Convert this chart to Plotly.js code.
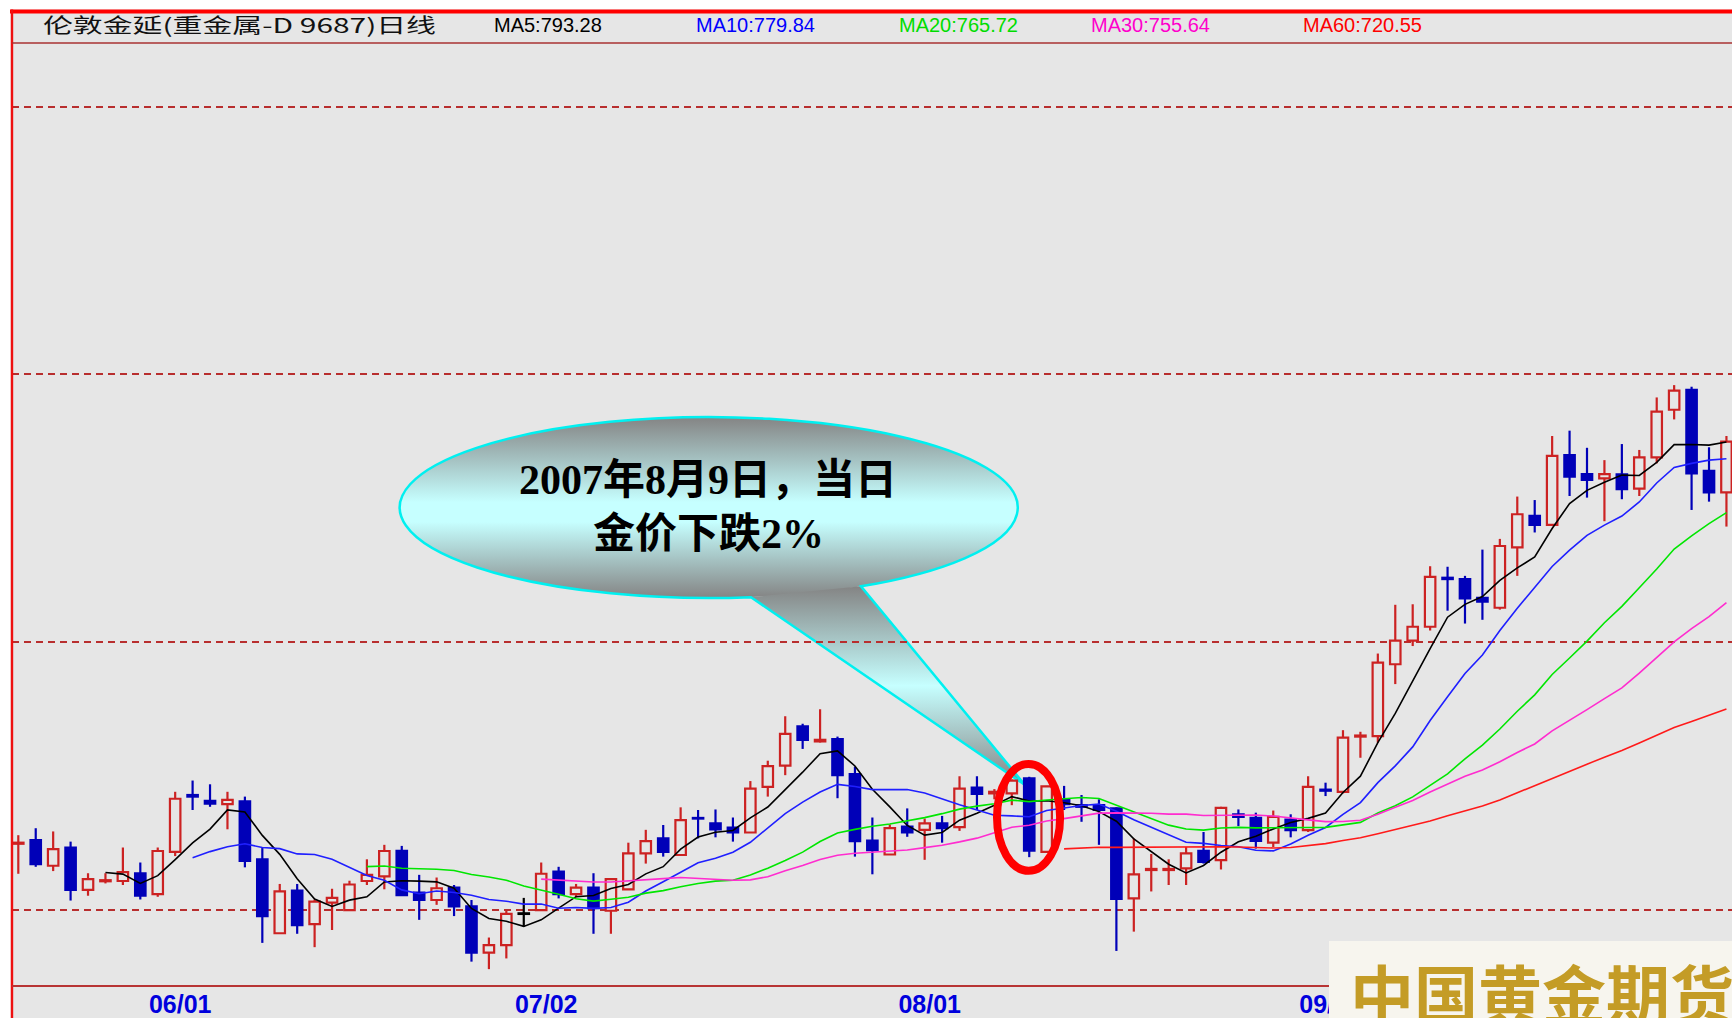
<!DOCTYPE html>
<html>
<head>
<meta charset="utf-8">
<script src="https://cdn.plot.ly/plotly-3.0.1.min.js"></script>
<style>
html,body{margin:0;padding:0;background:#ffffff;overflow:hidden;}
#chart{width:1732px;height:1018px;}
</style>
</head>
<body>
<div id="chart"></div>
<script>
// ---- data ----
const openP = [662.4,663.1,658.3,661.7,653.8,655.4,655.45,656.9,653.0,660.9,
 671.5,670.4,669.8,670.3,659.5,645.7,653.65,647.4,651.4,650.0,
 655.45,656.3,661.1,653.3,651.9,654.2,650.7,642.1,643.5,649.3,
 650.0,657.2,653.0,654.2,649.9,653.9,660.6,663.4,660.3,667.2,
 666.2,665.4,664.5,673.0,677.0,684.3,681.5,681.95,675.4,663.0,
 660.4,665.6,665.0,666.2,665.5,672.9,671.8,671.8,674.6,660.9,
 670.7,669.6,669.6,669.0,652.2,657.5,657.5,657.8,661.1,659.35,
 667.9,667.25,662.6,666.9,664.95,672.5,672.1,682.4,682.5,695.9,
 700.3,702.9,712.05,711.8,708.3,706.45,717.7,723.6,721.9,734.95,
 731.4,730.6,731.35,728.7,734.5,743.4,747.1,732.0,728.0];
const highP = [664.0,665.3,664.7,662.8,656.9,656.9,661.7,658.9,661.7,672.1,
 674.2,673.5,672.1,671.2,661.6,654.9,654.9,652.0,654.0,655.5,
 659.5,662.2,662.0,656.6,656.1,654.7,651.9,644.9,649.9,652.3,
 658.9,658.1,654.9,656.9,655.9,662.6,665.0,665.9,669.2,668.7,
 668.8,667.3,674.1,677.9,686.2,684.8,687.5,682.4,676.8,667.3,
 666.0,669.0,667.1,667.6,675.0,675.0,672.6,674.4,674.9,673.2,
 673.2,671.5,670.7,669.2,663.4,660.5,659.5,661.8,664.6,669.3,
 668.8,668.2,668.6,667.9,675.0,673.8,683.6,683.3,697.9,707.0,
 707.1,714.2,714.1,712.4,717.3,719.3,727.2,726.55,738.5,739.5,
 736.3,734.0,737.0,735.9,745.7,748.0,747.7,736.4,738.5];
const lowP = [656.8,658.1,657.3,651.8,652.7,655.0,654.7,652.0,652.5,660.1,
 668.7,669.3,665.1,658.0,643.9,645.7,645.6,643.1,646.3,650.0,
 654.7,653.9,652.8,648.2,651.0,648.9,640.4,639.0,641.0,646.9,
 649.9,652.2,652.4,645.6,645.6,653.8,658.7,660.0,660.3,663.4,
 663.6,662.8,664.5,671.2,675.2,680.1,681.3,670.9,660.0,656.7,
 660.3,663.7,659.4,662.6,664.8,668.7,670.7,669.6,659.9,660.9,
 668.7,666.5,662.2,642.4,646.0,653.5,654.7,654.7,658.7,657.6,
 665.7,661.5,661.8,663.6,664.6,671.3,671.8,678.45,681.25,692.2,
 699.3,702.2,705.9,703.5,704.2,706.1,712.4,720.5,721.7,727.3,
 727.0,722.6,726.7,727.3,733.4,741.6,724.7,726.25,721.6];
const closeP = [662.6,658.6,661.4,653.8,655.8,655.6,657.1,652.7,661.05,670.8,
 671.2,669.9,670.6,659.2,648.9,653.5,647.2,651.6,652.3,654.8,
 656.6,661.05,652.8,651.9,654.1,650.7,642.1,643.5,649.3,649.3,
 656.8,653.0,654.2,650.4,655.8,660.6,662.9,660.9,666.8,667.1,
 665.1,664.5,672.7,676.9,682.9,681.8,681.8,675.2,662.9,661.2,
 665.3,664.5,666.2,665.3,672.7,671.7,672.1,674.2,661.1,673.1,
 669.8,669.3,668.7,652.1,656.7,657.7,657.7,660.6,659.0,669.1,
 667.4,662.95,667.4,664.95,673.0,672.3,682.2,682.6,696.2,700.3,
 702.9,712.2,711.8,708.2,707.6,717.97,723.9,721.9,734.8,730.9,
 730.3,731.4,728.6,734.5,743.05,746.96,731.5,728.0,737.45];

const tickIdx  = [9, 30, 52, 75];
const tickText = ['06/01', '07/02', '08/01', '09/03'];
const gridPrices = [650, 700, 750, 800];
const maPeriods = [5, 10, 20, 30, 60];
const maColors  = ['#000000', '#1f1fff', '#00e600', '#ff2ccf', '#ff1a1a'];
const headerTitle = '伦敦金延(重金属-D 9687)日线';
const headerMA = ['MA5:793.28', 'MA10:779.84', 'MA20:765.72', 'MA30:755.64', 'MA60:720.55'];
const headerMAColors = ['#000000', '#0000ff', '#00dd00', '#ff00cc', '#ff0000'];
const calloutLines = ['2007年8月9日，当日', '金价下跌2%'];
const highlightIdx = 58;
const logoText = '中国黄金期货';

// ---- geometry helpers (page pixels -> paper) ----
const ML = 12, MT = 44, MB = 32, W = 1732, H = 1018;
const PW = W - ML, PH = H - MT - MB;
const fx = px => (px - ML) / PW;
const fy = py => (H - MB - py) / PH;

const UP = '#cc2222', DOWN = '#0000b8', FLAT = '#000000', BG = '#e6e6e6';
const idx = closeP.map((_, i) => i);
const dir = closeP.map((c, i) => c > openP[i] ? 1 : (c < openP[i] ? -1 : 0));
const bodyBase = openP.map((o, i) => Math.min(o, closeP[i]));
const bodyH = openP.map((o, i) => Math.max(Math.abs(closeP[i] - o), 0.12));
const bodyFill = dir.map(d => d > 0 ? BG : (d < 0 ? DOWN : FLAT));
const bodyEdge = dir.map(d => d > 0 ? UP : (d < 0 ? DOWN : FLAT));

function wicks(d) {
  const xs = [], ys = [];
  idx.forEach(i => {
    if (dir[i] !== d) return;
    const top = Math.max(openP[i], closeP[i]), bot = Math.min(openP[i], closeP[i]);
    xs.push(i, i, null, i, i, null);
    ys.push(top, highP[i], null, bot, lowP[i], null);
  });
  return {xs, ys};
}
function movingAvg(n) {
  return closeP.map((_, i) => {
    if (i < n) return null;
    let s = 0;
    for (let k = i - n + 1; k <= i; k++) s += closeP[k];
    return s / n;
  });
}

const data = [];
data.push({
  type: 'bar', x: idx, base: bodyBase, y: bodyH, width: 0.6,
  marker: {color: bodyFill, line: {color: bodyEdge, width: 2.2}},
  hoverinfo: 'skip'
});
[[1, UP], [-1, DOWN], [0, FLAT]].forEach(([d, col]) => {
  const w = wicks(d);
  data.push({type: 'scatter', mode: 'lines', x: w.xs, y: w.ys,
    line: {color: col, width: 2.2}, hoverinfo: 'skip'});
});
maPeriods.forEach((n, k) => {
  data.push({type: 'scatter', mode: 'lines', x: idx, y: movingAvg(n),
    line: {color: maColors[k], width: 1.6}, hoverinfo: 'skip'});
});

// ---- callout balloon (gradient) as an svg image ----
const svg = '<svg xmlns="http://www.w3.org/2000/svg" width="650" height="390" viewBox="0 0 650 390">' +
 '<defs>' +
 '<linearGradient id="g1" x1="0" y1="0" x2="0" y2="1">' +
 '<stop offset="0" stop-color="#848484"/><stop offset="0.47" stop-color="#c6ffff"/>' +
 '<stop offset="0.58" stop-color="#c6ffff"/><stop offset="1" stop-color="#848484"/></linearGradient>' +
 '<linearGradient id="g2" x1="0" y1="0" x2="0" y2="1">' +
 '<stop offset="0" stop-color="#848484"/><stop offset="0.5" stop-color="#c6ffff"/>' +
 '<stop offset="1" stop-color="#848484"/></linearGradient>' +
 '</defs>' +
 '<ellipse cx="319" cy="97.5" rx="309" ry="90.5" fill="url(#g1)"/>' +
 '<polygon points="361,187.2 635,375 471,176.3" fill="url(#g2)"/>' +
 '<path d="M471 176.3 A309 90.5 0 1 0 361 187.2 L635 375 Z" fill="none" stroke="#00f0f0" stroke-width="2.5" stroke-linejoin="miter"/>' +
 '</svg>';
const svgURI = 'data:image/svg+xml;charset=utf-8,' + encodeURIComponent(svg);

const shapes = [
  // white margins (outside the frame)
  {type: 'rect', xref: 'paper', yref: 'paper', x0: fx(0), x1: fx(W), y0: fy(9.5), y1: fy(0), fillcolor: '#ffffff', line: {width: 0}, layer: 'above'},
  {type: 'rect', xref: 'paper', yref: 'paper', x0: fx(0), x1: fx(10.5), y0: fy(H), y1: fy(0), fillcolor: '#ffffff', line: {width: 0}, layer: 'above'},
  // frame lines
  {type: 'line', xref: 'paper', yref: 'paper', x0: fx(10), x1: fx(W), y0: fy(11.5), y1: fy(11.5), line: {color: '#ff0000', width: 4}, layer: 'above'},
  {type: 'line', xref: 'paper', yref: 'paper', x0: fx(12), x1: fx(12), y0: fy(9.5), y1: fy(H), line: {color: '#ee1111', width: 2.4}, layer: 'above'},
  {type: 'line', xref: 'paper', yref: 'paper', x0: fx(12), x1: fx(W), y0: fy(43), y1: fy(43), line: {color: '#a83232', width: 1.6}, layer: 'above'},
  {type: 'line', xref: 'paper', yref: 'paper', x0: fx(12), x1: fx(W), y0: fy(986), y1: fy(986), line: {color: '#b83434', width: 2}, layer: 'above'},
  // red ring around the 2007-08-09 candle
  {type: 'circle', xref: 'x', yref: 'y', x0: highlightIdx - 1.85, x1: highlightIdx + 1.77, y0: 657.35, y1: 677.3,
   line: {color: '#ff0000', width: 8}, fillcolor: 'rgba(0,0,0,0)', layer: 'above'},
  // logo box
  {type: 'rect', xref: 'paper', yref: 'paper', x0: fx(1329), x1: fx(W + 2), y0: fy(H + 2), y1: fy(941), fillcolor: '#f7f5ee', line: {width: 0}, layer: 'above'}
];

const headerX = [492, 694, 897, 1089, 1301];
const annotations = [
  {xref: 'paper', yref: 'paper', x: fx(41), y: fy(25), xanchor: 'left', yanchor: 'middle', align: 'left', showarrow: false,
   text: headerTitle, font: {family: 'Noto Sans CJK SC, sans-serif', size: 20, color: '#111111'}}
];
headerMA.forEach((t, k) => annotations.push({
  xref: 'paper', yref: 'paper', x: fx(headerX[k]), y: fy(25), xanchor: 'left', yanchor: 'middle', align: 'left', showarrow: false,
  text: t, font: {family: 'Liberation Sans, Arial, sans-serif', size: 20, color: headerMAColors[k]}
}));
annotations.push({xref: 'paper', yref: 'paper', x: fx(708), y: fy(480.5), xanchor: 'center', yanchor: 'middle', showarrow: false,
  text: calloutLines[0], font: {family: 'Liberation Serif, Noto Sans CJK SC, serif', size: 42, color: '#000000', weight: 'bold'}});
annotations.push({xref: 'paper', yref: 'paper', x: fx(708), y: fy(534), xanchor: 'center', yanchor: 'middle', showarrow: false,
  text: calloutLines[1], font: {family: 'Liberation Serif, Noto Sans CJK SC, serif', size: 42, color: '#000000', weight: 'bold'}});
annotations.push({xref: 'paper', yref: 'paper', x: fx(1348), y: fy(991), xanchor: 'left', yanchor: 'middle', showarrow: false,
  text: logoText, font: {family: 'Noto Sans CJK SC, sans-serif', size: 64, color: '#c49c26', weight: 'bold'}});

const layout = {
  width: W, height: H,
  margin: {l: ML, r: 0, t: MT, b: MB, pad: 0},
  paper_bgcolor: BG, plot_bgcolor: 'rgba(0,0,0,0)',
  showlegend: false, hovermode: false,
  xaxis: {
    range: [(ML - 18.3) / 17.43, (W - 18.3) / 17.43],
    tickmode: 'array', tickvals: tickIdx, ticktext: tickText,
    tickfont: {family: 'Liberation Sans, Arial, sans-serif', size: 25, color: '#0000dd', weight: 'bold'},
    ticks: '', showgrid: false, zeroline: false, showline: false, fixedrange: true,
    ticklabelshift: 5, ticklabelstandoff: 1
  },
  yaxis: {
    range: [700 - (986 - 642.3) / 5.358, 700 + (642.3 - MT) / 5.358],
    tickmode: 'array', tickvals: gridPrices, showticklabels: false, ticks: '',
    showgrid: true, gridcolor: '#b82e2e', gridwidth: 2, griddash: '7px,5px',
    zeroline: false, showline: false, fixedrange: true
  },
  shapes: shapes,
  annotations: annotations,
  images: [{source: svgURI, xref: 'paper', yref: 'paper', x: fx(390), y: fy(410),
    sizex: 650 / PW, sizey: 390 / PH, xanchor: 'left', yanchor: 'top', sizing: 'stretch', layer: 'below'}]
};

Plotly.newPlot('chart', data, layout, {staticPlot: true, displayModeBar: false}).then(() => {
  document.querySelectorAll('text.annotation-text').forEach(t => {
    if (t.textContent === headerTitle) {
      t.setAttribute('textLength', '393');
      t.setAttribute('lengthAdjust', 'spacingAndGlyphs');
    }
  });
});
</script>
</body>
</html>
